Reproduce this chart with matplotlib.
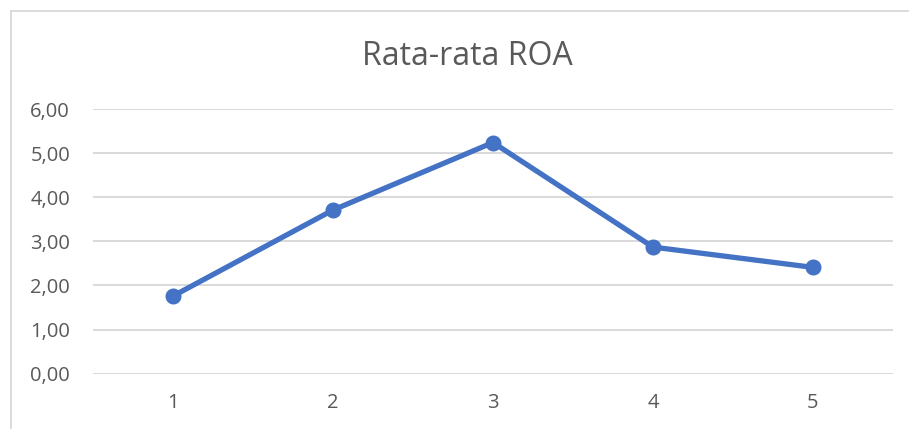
import matplotlib
matplotlib.use("Agg")
import matplotlib.pyplot as plt
from matplotlib.lines import Line2D

categories = ["1", "2", "3", "4", "5"]
roa_values = [1.76, 3.71, 5.24, 2.87, 2.41]
y_ticks = [0, 1, 2, 3, 4, 5, 6]
y_tick_labels = ["0,00", "1,00", "2,00", "3,00", "4,00", "5,00", "6,00"]
title = "Rata-rata ROA"

plt.rcParams['font.family'] = ['Open Sans', 'DejaVu Sans']
W, H = 909, 429
fig = plt.figure(figsize=(W / 100, H / 100), dpi=100)
fig.patch.set_facecolor("white")

ax = fig.add_axes([93 / W, 1 - 373.7 / H, 800 / W, (373.7 - 109) / H])
x = list(range(len(categories)))
ax.plot(x, roa_values, color="#4472C4", lw=3.8, marker="o", markersize=10.5,
        solid_capstyle="round", solid_joinstyle="round", zorder=3)
ax.set_xlim(-0.5, len(categories) - 0.5)
ax.set_ylim(0, 6)
ax.set_yticks(y_ticks)
ax.set_yticklabels(y_tick_labels)
ax.set_xticks(x)
ax.set_xticklabels(categories)
for s in ax.spines.values():
    s.set_visible(False)
ax.grid(axis="y", color="#D9D9D9", lw=1.4)
ax.set_axisbelow(True)
ax.tick_params(axis="both", length=0, labelsize=14.5, colors="#595959")
ax.tick_params(axis="y", pad=16.5)
ax.tick_params(axis="x", pad=14)

fig.text(467 / W, 1 - 65 / H, title, ha="center", va="baseline",
         fontsize=23, color="#595959")

# chart area border (top and left visible)
fig.add_artist(Line2D([10.5 / W, 10.5 / W], [0, 1 - 10.5 / H],
                      transform=fig.transFigure, color="#D9D9D9", lw=1.3))
fig.add_artist(Line2D([10.5 / W, 1], [1 - 10.5 / H, 1 - 10.5 / H],
                      transform=fig.transFigure, color="#D9D9D9", lw=1.3))

fig.savefig("out.png", dpi=100, facecolor="white")
